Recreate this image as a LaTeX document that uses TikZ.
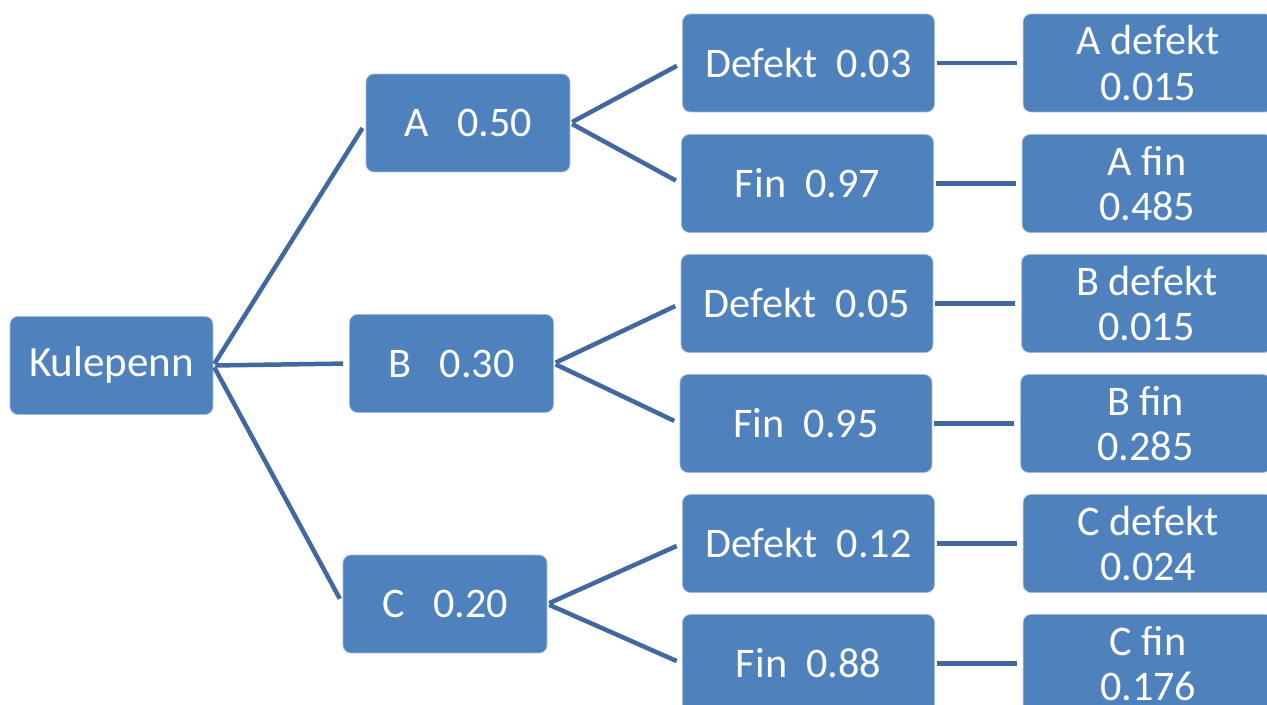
\documentclass[tikz,border=0pt]{standalone}
\usepackage{fontspec}
\setmainfont{Carlito}
\usepackage{tikz}
\usetikzlibrary{positioning}
\definecolor{boxblue}{HTML}{4F81BD}
\definecolor{edgeblue}{HTML}{41699F}
\tikzstyle{box} = [rectangle, rounded corners=0.16cm, fill=boxblue, draw=boxblue!55!white, line width=0.4pt, text=white, align=center, minimum height=1.96cm, inner sep=2pt]
\tikzstyle{root} = [box, minimum width=4.06cm, font=\fontsize{24.5}{26}\selectfont]
\tikzstyle{branch} = [box, minimum width=4.08cm, font=\fontsize{24}{26}\selectfont]
\tikzstyle{event} = [box, minimum width=5.04cm, font=\fontsize{24}{26}\selectfont]
\tikzstyle{result} = [box, minimum width=5cm, font=\fontsize{24}{26}\selectfont]
\tikzstyle{link} = [draw=edgeblue, line width=0.09cm, shorten >=0.12cm, shorten <=0.04cm]

\begin{document}
\begin{tikzpicture}[x=0.02cm, y=-0.02cm, node distance=1.76cm]
            \useasboundingbox (0,0) rectangle (1267,705);
            \clip (0,0) rectangle (1267,705);

            % Nodes
            \node [root] (pen) at (111.5,365.5) {Kulepenn};
            \node [branch] (fabA) at (468,123) {A\ \ \ 0.50};
            \node [branch] (fabB) at (451.5,363.5) {B\ \ \ 0.30};
            \node [branch] (fabC) at (445,604) {C\ \ \ 0.20};

            \node [event] (defA) at (808.5,63) {Defekt\ \ 0.03};
            \node [event] (finA) at (807.5,183.5) {Fin\ \ 0.97};
            \node [event] (defB) at (807,303.5) {Defekt\ \ 0.05};
            \node [event] (finB) at (806,423.5) {Fin\ \ 0.95};
            \node [event] (defC) at (808.5,543.5) {Defekt\ \ 0.12};
            \node [event] (finC) at (808.5,663.5) {Fin\ \ 0.88};

            \node [result, right=of defA] (resAdef) {A defekt\\0.015};
            \node [result, right=of finA] (resAfin) {A fin\\0.485};
            \node [result, right=of defB] (resBdef) {B defekt\\0.015};
            \node [result, right=of finB] (resBfin) {B fin\\0.285};
            \node [result, right=of defC] (resCdef) {C defekt\\0.024};
            \node [result, right=of finC] (resCfin) {C fin\\0.176};

            % Lines
            \draw [link] (pen.east) -- (fabA.west);
            \draw [link] (pen.east) -- (fabB.west);
            \draw [link] (pen.east) -- (fabC.west);
            \foreach \f in {A,B,C} {
                \draw [link] (fab\f.east) -- (def\f.west);
                \draw [link] (fab\f.east) -- (fin\f.west);
                \draw [link] (def\f.east) -- (res\f def.west);
                \draw [link] (fin\f.east) -- (res\f fin.west);
            }
        \end{tikzpicture}
\end{document}
